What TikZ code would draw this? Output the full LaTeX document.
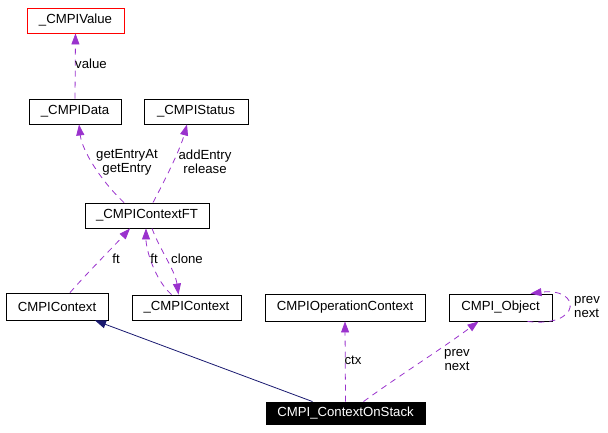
\documentclass[tikz,border=0pt]{standalone}
\usepackage{fontspec}
\setmainfont{Liberation Sans}
\usetikzlibrary{arrows.meta}
\definecolor{viola}{HTML}{9A32CD}
\definecolor{blunotte}{HTML}{191970}

\begin{document}
\begin{tikzpicture}[x=1pt, y=-1pt, font=\fontsize{13.2}{14}\selectfont,
	every node/.style={inner sep=0pt},
	box/.style={draw, line width=0.9pt, minimum height=25pt},
	uso/.style={viola, line width=0.8pt, dash pattern=on 6pt off 5pt, -{Triangle[length=11pt, width=8pt]}},
	eredita/.style={blunotte, line width=0.8pt, -{Triangle[length=11pt, width=8pt]}},
	lab/.style={align=center}]
	
	\useasboundingbox (0,0) rectangle (608,432);
	
	% Classi
	\node[box, draw=red, minimum width=97pt] (value) at (75.5,20.5) {\_CMPIValue};
	\node[box, minimum width=92pt] (data) at (75,111.5) {\_CMPIData};
	\node[box, minimum width=104pt] (status) at (196,111.5) {\_CMPIStatus};
	\node[box, minimum width=124pt] (ctxft) at (147,215.5) {\_CMPIContextFT};
	\node[box, minimum width=102pt, minimum height=27pt] (cmpictx) at (57,306.5) {CMPIContext};
	\node[box, minimum width=109pt] (uctx) at (186.5,307.5) {\_CMPIContext};
	\node[box, minimum width=160pt, minimum height=27pt] (opctx) at (345,307.5) {CMPIOperationContext};
	\node[box, minimum width=103pt, minimum height=27pt] (obj) at (500.5,307.5) {CMPI\_Object};
	\node[box, fill=black, text=white, minimum width=159pt, minimum height=22pt] (stack) at (345.5,413) {CMPI\_ContextOnStack};
	
	% Parte alta
	\draw[uso] (data.north) -- (value.south);
	\node[lab] (lvalue) at (91,64) {value};
	\draw[uso] ([xshift=-23pt]ctxft.north) .. controls (100,180) and (82,150) .. ([xshift=4pt]data.south);
	\node[lab] (lgetentry) at (127,162) {getEntryAt\\getEntry};
	\draw[uso] ([xshift=6pt]ctxft.north) .. controls (165,180) and (180,150) .. ([xshift=-9pt]status.south);
	\node[lab] (laddentry) at (205,162) {addEntry\\release};
	
	% Contesti
	\draw[uso] ([xshift=13pt]cmpictx.north) .. controls (90,270) and (115,245) .. ([xshift=-17pt]ctxft.south);
	\node[lab] (lft1) at (116,259) {ft};
	\draw[uso] ([xshift=-15pt]uctx.north) .. controls (155,280) and (146,250) .. ([xshift=-1pt]ctxft.south);
	\node[lab] (lft2) at (154,259) {ft};
	\draw[uso] ([xshift=5pt]ctxft.south) .. controls (160,250) and (175,270) .. ([xshift=-8pt]uctx.north);
	\node[lab] (lclone) at (187,259) {clone};
	
	% Parte bassa
	\draw[eredita] ([xshift=-33pt]stack.north) -- ([xshift=38pt]cmpictx.south);
	\draw[uso] (stack.north) -- (opctx.south);
	\node[lab] (lctx) at (353,360) {ctx};
	\draw[uso] ([xshift=18pt]stack.north) .. controls (400,375) and (440,350) .. ([xshift=-22pt]obj.south);
	\node[lab] (lprev1) at (457,360) {prev\\next};
	\draw[uso] ([xshift=27pt]obj.south) .. controls (582,328) and (582,287) .. ([xshift=30pt]obj.north);
	\node[lab, anchor=west, align=left] (lprev2) at (574,307) {prev\\next};
	
\end{tikzpicture}
\end{document}
